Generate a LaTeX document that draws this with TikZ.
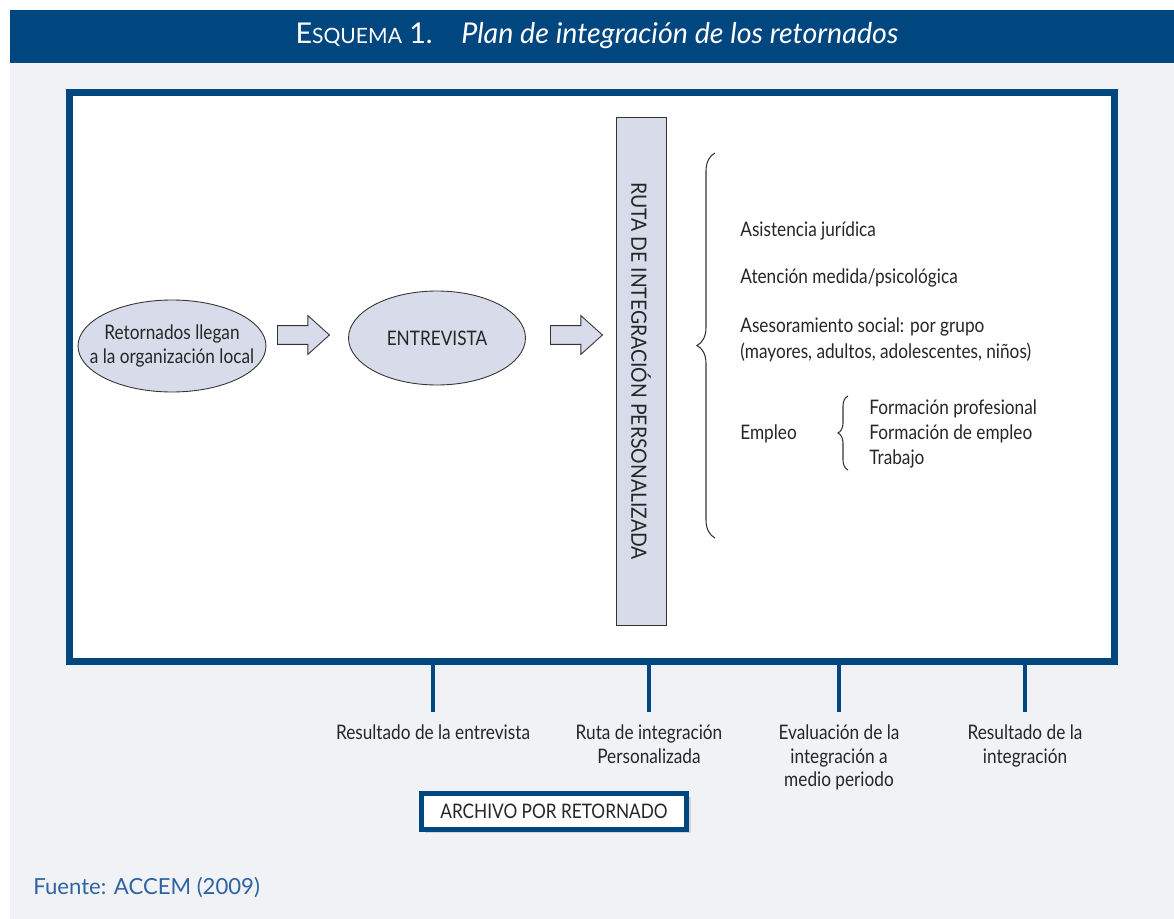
\documentclass[tikz,border=0pt]{standalone}
\usepackage{fontspec}
\setmainfont[FakeStretch=0.86]{Lato}
\newfontfamily\titlefont{Lato}
\newfontfamily\srcfont{Lato}
\newfontfamily\barfont[FakeStretch=0.92]{Lato}
\usetikzlibrary{positioning,shapes.geometric,shapes.arrows,decorations.pathreplacing,shadows}

\definecolor{esqblue}{RGB}{0,70,127}
\definecolor{panel}{RGB}{241,242,246}
\definecolor{ovalfill}{RGB}{216,220,234}
\definecolor{srcblue}{RGB}{45,100,160}

\begin{document}
\begin{tikzpicture}[x=0.02cm, y=-0.02cm,
    every node/.style={font=\fontsize{11.4}{13.6}\selectfont, text=black!85},
    oval/.style={draw=black!80, ellipse, fill=ovalfill, line width=0.5pt, inner sep=0pt},
    blockarrow/.style={draw=black!80, fill=ovalfill, single arrow, anchor=tail, line width=0.5pt, inner sep=0.18cm, single arrow head extend=0.2cm, single arrow tip angle=84, minimum height=1.04cm},
    bar/.style={draw=black!80, fill=ovalfill, line width=0.5pt, rotate=-90, minimum width=10.16cm, minimum height=1cm, font=\barfont\fontsize{12}{14}\selectfont},
    brace/.style={draw=black!80, line width=0.6pt, decorate},
    item/.style={anchor=west, inner sep=0pt},
    result/.style={anchor=north, inner sep=0pt, align=center},
    tick/.style={draw=esqblue, line width=2.2pt},
    shade/.style={drop shadow={opacity=0.25, shadow xshift=0.08cm, shadow yshift=-0.08cm}}]

  % page and panel
  \fill[white] (0,0) rectangle (1174,919);
  \useasboundingbox (0,0) rectangle (1174,919);
  \fill[panel] (10,63) rectangle (1174,919);
  \fill[esqblue] (10,10) rectangle (1174,63);
  \node[text=white] (title) at (597,36) {\titlefont\fontsize{16.3}{18}\selectfont E{\fontsize{12}{12}\selectfont SQUEMA} 1.\quad\itshape Plan de integraci\'on de los retornados};

  % main frame
  \node[draw=esqblue, fill=white, line width=0.14cm, minimum width=20.9cm, minimum height=11.38cm, shade] (frame) at (592,377) {};

  % flow
  \node[oval, minimum width=3.76cm, minimum height=1.84cm, label={[align=center]center:Retornados llegan\\a la organizaci\'on local}] (llegada) at (172,346) {};
  \node[blockarrow] (flecha1) at (277,335) {};
  \node[oval, minimum width=3.54cm, minimum height=1.88cm] (entrevista) at (437,338) {ENTREVISTA};
  \node[blockarrow] (flecha2) at (550,335) {};
  \node[bar] (ruta) at (641,371) {RUTA DE INTEGRACI\'ON PERSONALIZADA};

  % services
  \draw[brace, decoration={brace, amplitude=0.36cm}] (715,538) -- (715,153);
  \node[item] (juridica) at (740,231) {Asistencia jur\'idica};
  \node[item] (atencion) at (740,278) {Atenci\'on medida/psicol\'ogica};
  \node[item] (social) at (740,327) {Asesoramiento social: por grupo};
  \node[item] (grupos) at (740,352) {(mayores, adultos, adolescentes, ni\~nos)};
  \node[item] (empleo) at (740,434) {Empleo};
  \draw[brace, decoration={brace, amplitude=0.2cm}] (848,470) -- (848,396);
  \node[item] (profesional) at (869,409) {Formaci\'on profesional};
  \node[item] (formempleo) at (869,434) {Formaci\'on de empleo};
  \node[item] (trabajo) at (869,459) {Trabajo};

  % results under the frame
  \node[result] (res1) at (433,724) {Resultado de la entrevista};
  \node[result] (res2) at (649,724) {Ruta de integraci\'on\\Personalizada};
  \node[result] (res3) at (839,724) {Evaluaci\'on de la\\integraci\'on a\\medio periodo};
  \node[result] (res4) at (1025,724) {Resultado de la\\integraci\'on};
  \foreach \r in {res1,res2,res3,res4}
    \draw[tick, shorten >=0.24cm] (frame.south -| \r.north) -- (\r.north);

  \node[draw=esqblue, fill=white, line width=0.1cm, minimum width=5.32cm, minimum height=0.72cm, shade] (archivo) at (554,811) {ARCHIVO POR RETORNADO};

  \node[anchor=west, inner sep=0pt, text=srcblue, font=\srcfont\fontsize{12.6}{14}\selectfont] (fuente) at (33,888) {Fuente: ACCEM (2009)};
\end{tikzpicture}
\end{document}
